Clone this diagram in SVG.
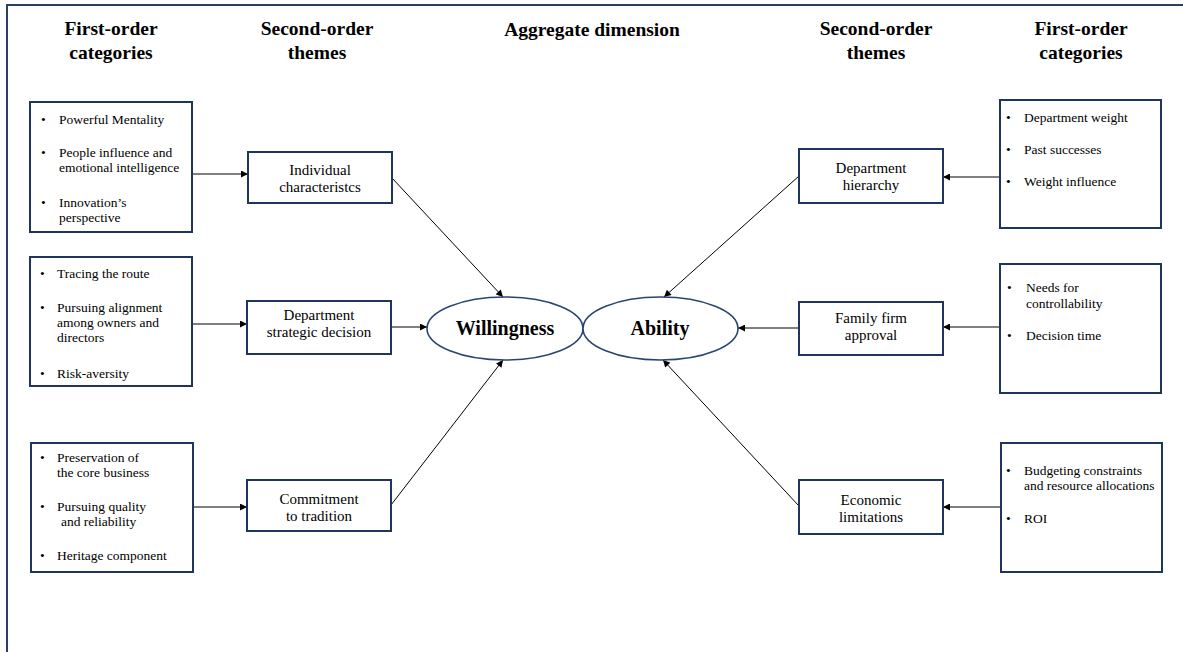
<svg xmlns="http://www.w3.org/2000/svg" width="1183" height="652" viewBox="0 0 1183 652">
<defs>
<style>
.frame{fill:none;stroke:#2a3f62;stroke-width:2}
.box{fill:#fff;stroke:#1f3560;stroke-width:2}
.ell{fill:#fff;stroke:#2a4470;stroke-width:1.6}
.hdr{font-family:"Liberation Serif",serif;font-weight:bold;font-size:19.5px;fill:#000;text-anchor:middle}
.item{font-family:"Liberation Serif",serif;font-size:13.5px;fill:#000}
.theme{font-family:"Liberation Serif",serif;font-size:15px;fill:#000;text-anchor:middle}
.dim{font-family:"Liberation Serif",serif;font-weight:bold;font-size:20px;fill:#000;text-anchor:middle}
.con{stroke:#000;stroke-width:1;fill:none;marker-end:url(#ah)}
</style>
<marker id="ah" viewBox="0 0 10 10" refX="10" refY="5" markerWidth="8" markerHeight="7" markerUnits="userSpaceOnUse" orient="auto">
<path d="M0,0 L10,5 L0,10 z" fill="#000"/>
</marker>
</defs>
<rect width="1183" height="652" fill="#fff"/>
<rect class="frame" x="7" y="5" width="1200" height="700"/>

<g id="headers">
<text class="hdr" x="111" y="35">First-order</text>
<text class="hdr" x="111" y="59">categories</text>
<text class="hdr" x="317" y="35">Second-order</text>
<text class="hdr" x="317" y="59">themes</text>
<text class="hdr" x="592" y="36">Aggregate dimension</text>
<text class="hdr" x="876" y="35">Second-order</text>
<text class="hdr" x="876" y="59">themes</text>
<text class="hdr" x="1081" y="35">First-order</text>
<text class="hdr" x="1081" y="59">categories</text>
</g>

<g id="connectors">
<line class="con" x1="192" y1="174" x2="248" y2="174"/>
<line class="con" x1="192" y1="324" x2="247" y2="324"/>
<line class="con" x1="193" y1="507" x2="247" y2="507"/>
<line class="con" x1="1000" y1="177" x2="943" y2="177"/>
<line class="con" x1="1000" y1="327" x2="943" y2="327"/>
<line class="con" x1="1001" y1="507" x2="943" y2="507"/>
<line class="con" x1="392" y1="178" x2="503" y2="297"/>
<line class="con" x1="391" y1="327" x2="427" y2="327"/>
<line class="con" x1="391" y1="505" x2="503" y2="360"/>
<line class="con" x1="799" y1="176" x2="664" y2="297"/>
<line class="con" x1="799" y1="328" x2="738" y2="328"/>
<line class="con" x1="799" y1="506" x2="663" y2="360"/>
</g>

<g id="cat-l1">
<rect class="box" x="30" y="102" width="162" height="130"/>
<text class="item" x="41" y="124">•</text><text class="item" x="59" y="124">Powerful Mentality</text>
<text class="item" x="41" y="157">•</text><text class="item" x="59" y="157">People influence and</text>
<text class="item" x="59" y="172">emotional intelligence</text>
<text class="item" x="41" y="207">•</text><text class="item" x="59" y="207">Innovation’s</text>
<text class="item" x="59" y="222">perspective</text>
</g>
<g id="cat-l2">
<rect class="box" x="30" y="257" width="162" height="129"/>
<text class="item" x="40" y="278">•</text><text class="item" x="57" y="278">Tracing the route</text>
<text class="item" x="40" y="312">•</text><text class="item" x="57" y="312">Pursuing alignment</text>
<text class="item" x="57" y="327">among owners and</text>
<text class="item" x="57" y="342">directors</text>
<text class="item" x="40" y="378">•</text><text class="item" x="57" y="378">Risk-aversity</text>
</g>
<g id="cat-l3">
<rect class="box" x="31" y="443" width="162" height="129"/>
<text class="item" x="40" y="462">•</text><text class="item" x="57" y="462">Preservation of</text>
<text class="item" x="57" y="477">the core business</text>
<text class="item" x="40" y="511">•</text><text class="item" x="57" y="511">Pursuing quality</text>
<text class="item" x="61" y="526">and reliability</text>
<text class="item" x="40" y="560">•</text><text class="item" x="57" y="560">Heritage component</text>
</g>

<g id="theme-l1">
<rect class="box" x="248" y="152" width="144" height="51"/>
<text class="theme" x="320" y="175">Individual</text>
<text class="theme" x="320" y="192">characteristcs</text>
</g>
<g id="theme-l2">
<rect class="box" x="247" y="301" width="144" height="53"/>
<text class="theme" x="319" y="320">Department</text>
<text class="theme" x="319" y="337">strategic decision</text>
</g>
<g id="theme-l3">
<rect class="box" x="247" y="480" width="144" height="51"/>
<text class="theme" x="319" y="504">Commitment</text>
<text class="theme" x="319" y="521">to tradition</text>
</g>

<g id="willingness">
<ellipse class="ell" cx="505" cy="328.5" rx="78" ry="31.5"/>
<text class="dim" x="505" y="335">Willingness</text>
</g>
<g id="ability">
<ellipse class="ell" cx="660.5" cy="328.5" rx="77.5" ry="31.5"/>
<text class="dim" x="660" y="335">Ability</text>
</g>

<g id="theme-r1">
<rect class="box" x="799" y="149" width="144" height="54"/>
<text class="theme" x="871" y="173">Department</text>
<text class="theme" x="871" y="190">hierarchy</text>
</g>
<g id="theme-r2">
<rect class="box" x="799" y="302" width="144" height="53"/>
<text class="theme" x="871" y="323">Family firm</text>
<text class="theme" x="871" y="340">approval</text>
</g>
<g id="theme-r3">
<rect class="box" x="799" y="480" width="144" height="54"/>
<text class="theme" x="871" y="505">Economic</text>
<text class="theme" x="871" y="522">limitations</text>
</g>

<g id="cat-r1">
<rect class="box" x="1000" y="100" width="161" height="128"/>
<text class="item" x="1006" y="122">•</text><text class="item" x="1024" y="122">Department weight</text>
<text class="item" x="1006" y="154">•</text><text class="item" x="1024" y="154">Past successes</text>
<text class="item" x="1006" y="186">•</text><text class="item" x="1024" y="186">Weight influence</text>
</g>
<g id="cat-r2">
<rect class="box" x="1000" y="264" width="161" height="129"/>
<text class="item" x="1007" y="292">•</text><text class="item" x="1026" y="292">Needs for</text>
<text class="item" x="1026" y="308">controllability</text>
<text class="item" x="1007" y="340">•</text><text class="item" x="1026" y="340">Decision time</text>
</g>
<g id="cat-r3">
<rect class="box" x="1001" y="443" width="161" height="129"/>
<text class="item" x="1006" y="475">•</text><text class="item" x="1024" y="475">Budgeting constraints</text>
<text class="item" x="1024" y="490">and resource allocations</text>
<text class="item" x="1006" y="523">•</text><text class="item" x="1024" y="523">ROI</text>
</g>
</svg>
